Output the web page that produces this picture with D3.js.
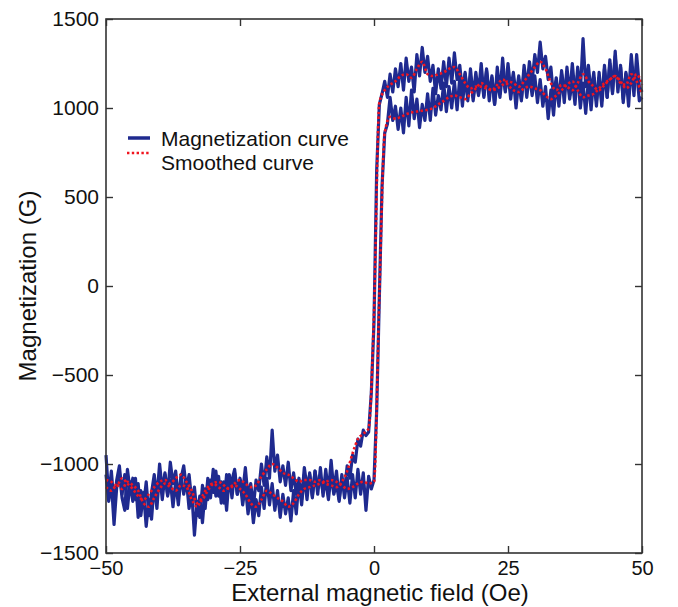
<!DOCTYPE html>
<html>
<head>
<meta charset="utf-8">
<script src="https://cdn.jsdelivr.net/npm/d3@7"></script>
<style>
  body { margin: 0; background: #fff; }
  text { font-family: "Liberation Sans", Arial, Helvetica, sans-serif; fill: #111; }
</style>
</head>
<body>
<svg id="chart"></svg>
<script>
// field sweep, 0.5 Oe steps from -50 to 50 (raw) and 1 Oe steps (smoothed)
const fieldRaw = d3.range(-50, 50.25, 0.5);
const fieldSmooth = d3.range(-50, 50.5, 1);

// descending branch (switches near -1 Oe)
const magDown = [
  -950, -1180, -1040, -1230, -1090, -1010, -1170, -1060, -1250, -1100,
  -1210, -1080, -1300, -1150, -1240, -1100, -1290, -1160, -1060, -1190,
  -1000, -1150, -1050, -1170, -990, -1110, -1040, -1190, -1080, -1010,
  -1140, -1060, -1210, -1130, -1290, -1180, -1330, -1140, -1200, -1090,
  -1160, -1040, -1180, -1100, -1220, -1060, -1150, -1090, -1030, -1170,
  -1080, -1160, -1020, -1190, -1110, -1240, -1090, -1150, -1000, -1120,
  -960, -1080, -810, -1040, -950, -1100, -1010, -1120, -990, -1150,
  -1050, -1170, -1080, -1200, -1020, -1130, -1060, -1180, -1040, -1140,
  -1070, -1160, -1100, -1200, -1060, -1170, -1110, -1210, -1080, -1150,
  -1010, -1080, -950, -990, -860, -900, -810, -840, -820, -600,
  -200, 650, 1020, 1080, 1150, 1060, 1190, 1090, 1220, 1120,
  1250, 1100, 1280, 1150, 1230, 1090, 1300, 1180, 1340, 1200,
  1290, 1150, 1240, 1080, 1220, 1110, 1260, 1120, 1280, 1140,
  1310, 1160, 1240, 1090, 1200, 1060, 1180, 1040, 1160, 1070,
  1190, 1060, 1220, 1080, 1170, 1020, 1160, 1060, 1210, 1090,
  1250, 1100, 1200, 1070, 1180, 1050, 1240, 1110, 1260, 1150,
  1300, 1200, 1370, 1220, 1290, 1160, 1230, 1060, 1170, 1040,
  1210, 1080, 1190, 1050, 1160, 1020, 1230, 1090, 1390, 1120,
  1240, 1080, 1200, 1040, 1170, 1010, 1220, 1060, 1250, 1090,
  1290, 1120, 1230, 1050, 1200, 1080, 1300, 1130, 1210, 1040,
  1060
];

// ascending branch (switches near +1 Oe)
const magUp = [
  -1060, -1210, -1100, -1340, -1130, -1050, -1190, -1260, -1030, -1150,
  -1080, -1200, -1110, -1290, -1160, -1350, -1200, -1310, -1110, -1250,
  -1050, -1200, -1060, -1180, -1090, -1240, -1100, -1230, -1060, -1170,
  -1090, -1250, -1160, -1400, -1210, -1300, -1120, -1250, -1080, -1190,
  -1030, -1180, -1070, -1220, -1100, -1260, -1060, -1190, -1050, -1170,
  -1090, -1230, -1120, -1280, -1170, -1330, -1200, -1290, -1130, -1250,
  -1080, -1230, -1110, -1260, -1150, -1300, -1170, -1280, -1190, -1320,
  -1150, -1280, -1090, -1230, -1060, -1200, -1050, -1190, -1040, -1170,
  -1020, -1180, -1030, -1160, -980, -1150, -1040, -1200, -1060, -1190,
  -1080, -1220, -1060, -1190, -1030, -1170, -1050, -1260, -1070, -1140,
  -1090, -700, -60, 560, 860, 910, 1060, 930, 1010, 880,
  1000, 860, 1060, 900, 1100, 940, 1050, 890, 1020, 930,
  1080, 930, 1110, 960, 1070, 990, 1140, 980, 1120, 1000,
  1150, 990, 1170, 1010, 1190, 1040, 1220, 1060, 1200, 1080,
  1250, 1070, 1210, 1040, 1180, 1020, 1230, 1080, 1280, 1100,
  1200, 1050, 1170, 1000, 1160, 1040, 1210, 1060, 1190, 1070,
  1180, 1030, 1160, 1010, 1120, 940, 1100, 960, 1150, 1010,
  1190, 1030, 1230, 1070, 1250, 1080, 1190, 1000, 1140, 970,
  1160, 990, 1170, 1010, 1200, 1040, 1240, 1060, 1270, 1080,
  1320, 1090, 1240, 1030, 1190, 1010, 1250, 1070, 1300, 1120,
  1090
];

// smoothed curves, 1 Oe steps
const smoothDown = [
  -1090, -1100, -1120, -1080, -1110, -1140, -1180, -1200, -1170, -1130,
  -1100, -1090, -1110, -1080, -1060, -1100, -1150, -1220, -1200, -1150,
  -1110, -1100, -1120, -1140, -1110, -1090, -1110, -1130, -1120, -1070,
  -1030, -1000, -1020, -1050, -1060, -1080, -1100, -1090, -1090, -1100,
  -1090, -1110, -1120, -1130, -1100, -1040, -940, -860, -830, -800,
  -150, 1030, 1100, 1130, 1150, 1180, 1190, 1170, 1220, 1260,
  1190, 1180, 1190, 1200, 1220, 1230, 1190, 1140, 1110, 1120,
  1120, 1110, 1100, 1110, 1130, 1150, 1140, 1120, 1150, 1190,
  1230, 1260, 1220, 1140, 1100, 1130, 1120, 1100, 1140, 1190,
  1150, 1120, 1100, 1130, 1160, 1180, 1140, 1130, 1190, 1150,
  1080
];
const smoothUp = [
  -1130, -1150, -1120, -1140, -1100, -1120, -1150, -1220, -1240, -1190,
  -1140, -1110, -1130, -1150, -1120, -1130, -1200, -1240, -1180, -1130,
  -1110, -1130, -1150, -1130, -1120, -1140, -1170, -1220, -1240, -1200,
  -1150, -1170, -1190, -1210, -1240, -1220, -1170, -1140, -1130, -1120,
  -1110, -1100, -1090, -1100, -1120, -1140, -1130, -1110, -1100, -1110,
  -1100, -50, 860, 950, 940, 950, 965, 975, 980, 985,
  990, 1000, 1020, 1040, 1060, 1070, 1060, 1050, 1080, 1110,
  1140, 1120, 1100, 1130, 1160, 1130, 1100, 1090, 1110, 1120,
  1110, 1100, 1070, 1050, 1070, 1100, 1130, 1150, 1100, 1060,
  1070, 1080, 1110, 1140, 1160, 1180, 1150, 1110, 1140, 1190,
  1130
];

const xTicks = [-50, -25, 0, 25, 50];
const yTicks = [-1500, -1000, -500, 0, 500, 1000, 1500];
const seriesNames = ["Magnetization curve", "Smoothed curve"];

const width = 678, height = 607;
const plotLeft = 106, plotRight = 642, plotTop = 19, plotBottom = 553;
const blue = "#1f2a8f", red = "#f0141e", axisColor = "#333";

const svg = d3.select("#chart")
    .attr("width", width)
    .attr("height", height)
    .attr("viewBox", [0, 0, width, height]);

const x = d3.scaleLinear().domain([-50, 50]).range([plotLeft, plotRight]);
const y = d3.scaleLinear().domain([-1500, 1500]).range([plotBottom, plotTop]);

// data lines
const plot = svg.append("g");

const rawLine = d3.line().x(d => x(d[0])).y(d => y(d[1]));
const smoothLine = d3.line().x(d => x(d[0])).y(d => y(d[1])).curve(d3.curveMonotoneX);

[magDown, magUp].forEach(vals => {
    plot.append("path")
        .datum(fieldRaw.map((f, i) => [f, vals[i]]))
        .attr("d", rawLine)
        .attr("fill", "none")
        .attr("stroke", blue)
        .attr("stroke-width", 3.2)
        .attr("stroke-linejoin", "round");
});

[smoothDown, smoothUp].forEach(vals => {
    plot.append("path")
        .datum(fieldSmooth.map((f, i) => [f, vals[i]]))
        .attr("d", smoothLine)
        .attr("fill", "none")
        .attr("stroke", red)
        .attr("stroke-width", 2.6)
        .attr("stroke-dasharray", "2.4,2.4");
});

// frame + ticks on all four sides
const fmt = d3.format("d");
const styleAxis = g => {
    g.select(".domain").remove();
    g.selectAll(".tick line").attr("stroke", axisColor).attr("stroke-width", 1.4);
    g.selectAll(".tick text").attr("font-size", 21).attr("fill", "#111");
};

svg.append("g")
    .attr("transform", `translate(0,${plotBottom})`)
    .call(d3.axisBottom(x).tickValues(xTicks).tickFormat(fmt).tickSizeInner(-7).tickSizeOuter(0))
    .call(styleAxis)
    .call(g => g.selectAll(".tick text").attr("font-size", 20).attr("dy", "0.72em").attr("y", 8));

svg.append("g")
    .attr("transform", `translate(0,${plotTop})`)
    .call(d3.axisTop(x).tickValues(xTicks).tickSizeInner(-7).tickSizeOuter(0).tickFormat(""))
    .call(styleAxis);

svg.append("g")
    .attr("transform", `translate(${plotLeft},0)`)
    .call(d3.axisLeft(y).tickValues(yTicks).tickFormat(fmt).tickSizeInner(-7).tickSizeOuter(0))
    .call(styleAxis)
    .call(g => g.selectAll(".tick text").attr("x", -7));

svg.append("g")
    .attr("transform", `translate(${plotRight},0)`)
    .call(d3.axisRight(y).tickValues(yTicks).tickSizeInner(-7).tickSizeOuter(0).tickFormat(""))
    .call(styleAxis);

svg.append("rect")
    .attr("x", plotLeft).attr("y", plotTop)
    .attr("width", plotRight - plotLeft).attr("height", plotBottom - plotTop)
    .attr("fill", "none")
    .attr("stroke", axisColor)
    .attr("stroke-width", 1.6);

// axis titles
svg.append("text")
    .attr("x", (plotLeft + plotRight) / 2 + 6)
    .attr("y", 601)
    .attr("text-anchor", "middle")
    .attr("font-size", 24)
    .text("External magnetic field (Oe)");

svg.append("text")
    .attr("transform", `translate(36,${(plotTop + plotBottom) / 2}) rotate(-90)`)
    .attr("text-anchor", "middle")
    .attr("font-size", 24)
    .text("Magnetization (G)");

// legend
const legend = svg.append("g");
legend.append("line")
    .attr("x1", 128).attr("x2", 150).attr("y1", 138).attr("y2", 138)
    .attr("stroke", blue).attr("stroke-width", 3.5);
legend.append("line")
    .attr("x1", 127).attr("x2", 150).attr("y1", 153).attr("y2", 153)
    .attr("stroke", red).attr("stroke-width", 2.6).attr("stroke-dasharray", "2.4,2.4");
legend.selectAll("text.leg")
    .data(seriesNames)
    .join("text")
    .attr("class", "leg")
    .attr("x", 161)
    .attr("y", (d, i) => 146 + i * 24)
    .attr("font-size", 21)
    .text(d => d);
</script>
</body>
</html>
